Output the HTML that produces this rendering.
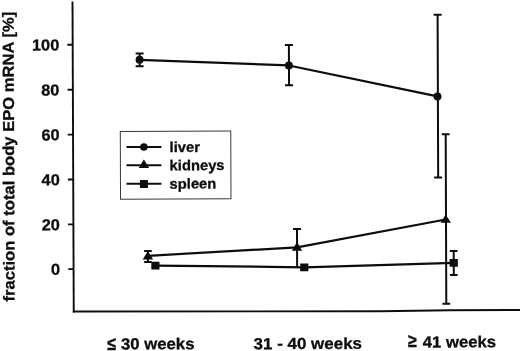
<!DOCTYPE html>
<html><head><meta charset="utf-8"><title>EPO mRNA chart</title>
<style>
html,body{margin:0;padding:0;background:#fff;}
body{width:520px;height:351px;overflow:hidden;}
svg{display:block;}
text{font-family:"Liberation Sans",Arial,sans-serif;font-weight:bold;fill:#0d0d0d;stroke:#0d0d0d;stroke-width:0.3px;}
</style></head><body>
<svg width="520" height="351" viewBox="0 0 520 351">
<rect width="520" height="351" fill="#fff"/>
<g transform="rotate(-0.2 260 175)">
<g stroke="#0d0d0d" stroke-width="1.9" fill="none" stroke-linecap="butt">
<line x1="73.11" y1="0.85" x2="73.27" y2="311.8"/>
<polyline points="72.32,310.85 379.52,311.67 449.53,310.96 521.53,310.91"/>
<line x1="67.83" y1="44.1" x2="73.13" y2="44.1"/>
<line x1="67.85" y1="89.05" x2="73.15" y2="89.05"/>
<line x1="67.88" y1="133.95" x2="73.18" y2="133.95"/>
<line x1="67.9" y1="178.85" x2="73.2" y2="178.85"/>
<line x1="67.93" y1="223.75" x2="73.23" y2="223.75"/>
<line x1="67.95" y1="268.45" x2="73.25" y2="268.45"/>
</g>
<g font-size="15.8" text-anchor="end">
<text x="59.74" y="49.8" textLength="27.3" lengthAdjust="spacingAndGlyphs">100</text>
<text x="59.74" y="94.75" textLength="18.2" lengthAdjust="spacingAndGlyphs">80</text>
<text x="59.74" y="139.65" textLength="18.2" lengthAdjust="spacingAndGlyphs">60</text>
<text x="59.74" y="184.55" textLength="18.2" lengthAdjust="spacingAndGlyphs">40</text>
<text x="59.74" y="229.45" textLength="18.2" lengthAdjust="spacingAndGlyphs">20</text>
<text x="59.74" y="274.15" textLength="9.1" lengthAdjust="spacingAndGlyphs">0</text>
</g>
<text font-size="15.8" transform="translate(14.16,300.64) rotate(-90)" textLength="289.8" lengthAdjust="spacingAndGlyphs">fraction of total body EPO mRNA [%]</text>
<g font-size="16">
<text transform="translate(106.69 349.47) scale(1 1.15)">≤</text>
<text x="120.29" y="348.91" textLength="73.6" lengthAdjust="spacingAndGlyphs">30 weeks</text>
<text x="252.99" y="349.18" textLength="108.4" lengthAdjust="spacingAndGlyphs">31 - 40 weeks</text>
<text transform="translate(407.4 347.52) scale(1 1.15)">≥</text>
<text x="422.2" y="348.07" textLength="73.2" lengthAdjust="spacingAndGlyphs">41 weeks</text>
</g>
<rect x="120.45" y="131.01" width="110.46" height="67.69" fill="#fff" stroke="#3a3a3a" stroke-width="1"/>
<g stroke="#0d0d0d" stroke-width="2">
<line x1="126.6" y1="146.53" x2="161.5" y2="146.66"/>
<line x1="126.53" y1="164.83" x2="161.43" y2="164.96"/>
<line x1="126.47" y1="183.23" x2="161.37" y2="183.36"/>
</g>
<g fill="#0d0d0d">
<circle cx="144" cy="146.59" r="3.8"/>
<polygon points="143.95,159.19 149.25,167.69 138.65,167.69"/>
<rect x="139.87" y="179.49" width="8" height="8"/>
</g>
<g font-size="14.4">
<text x="169.68" y="151.68" transform="translate(169.68 0) scale(1.025 1) translate(-169.68 0)">liver</text>
<text x="169.62" y="169.98" transform="translate(169.62 0) scale(1.025 1) translate(-169.62 0)">kidneys</text>
<text x="169.55" y="188.38" transform="translate(169.55 0) scale(1.025 1) translate(-169.55 0)">spleen</text>
</g>
<g stroke="#0d0d0d" stroke-width="2" fill="none">
<path d="M140.02 53.18V65.78M136.02 53.18h8M136.02 65.78h8"/>
<path d="M289.35 45.1V85.3M285.35 45.1h8M285.35 85.3h8"/>
<path d="M438.16 15.42V178.12M434.16 15.42h8M434.16 178.12h8"/>
<path d="M147.64 250.51V261.51M143.84 250.51h7.6M143.84 261.51h7.6"/>
<path d="M296.81 229.13V267.33M292.81 229.13h8"/>
<path d="M445.84 134.85V304.45M441.94 134.85h7.8M441.94 304.45h7.8"/>
<path d="M453.43 251.68V275.58M449.63 251.68h7.6M449.63 275.58h7.6"/>
</g>
<g stroke="#0d0d0d" stroke-width="2.25" fill="none" stroke-linejoin="round">
<polyline points="140,59.38 289.28,65.6 437.77,97.02"/>
<polyline points="147.62,255.41 296.75,247.43 445.54,220.15"/>
<polyline points="155.08,265.23 303.98,267.45 453.39,263.48"/>
</g>
<g fill="#0d0d0d">
<circle cx="140" cy="59.38" r="4"/>
<circle cx="289.28" cy="65.6" r="4"/>
<circle cx="437.77" cy="97.02" r="4"/>
<polygon points="147.63,250.51 152.83,259.01 142.43,259.01"/>
<polygon points="296.76,242.03 301.96,250.93 291.56,250.93"/>
<polygon points="445.56,215.05 450.76,223.45 440.36,223.45"/>
<rect x="150.98" y="261.38" width="8.2" height="7.7"/>
<rect x="299.88" y="263.6" width="8.2" height="7.7"/>
<rect x="449.29" y="259.63" width="8.2" height="7.7"/>
</g>
</g>
</svg>
</body></html>
